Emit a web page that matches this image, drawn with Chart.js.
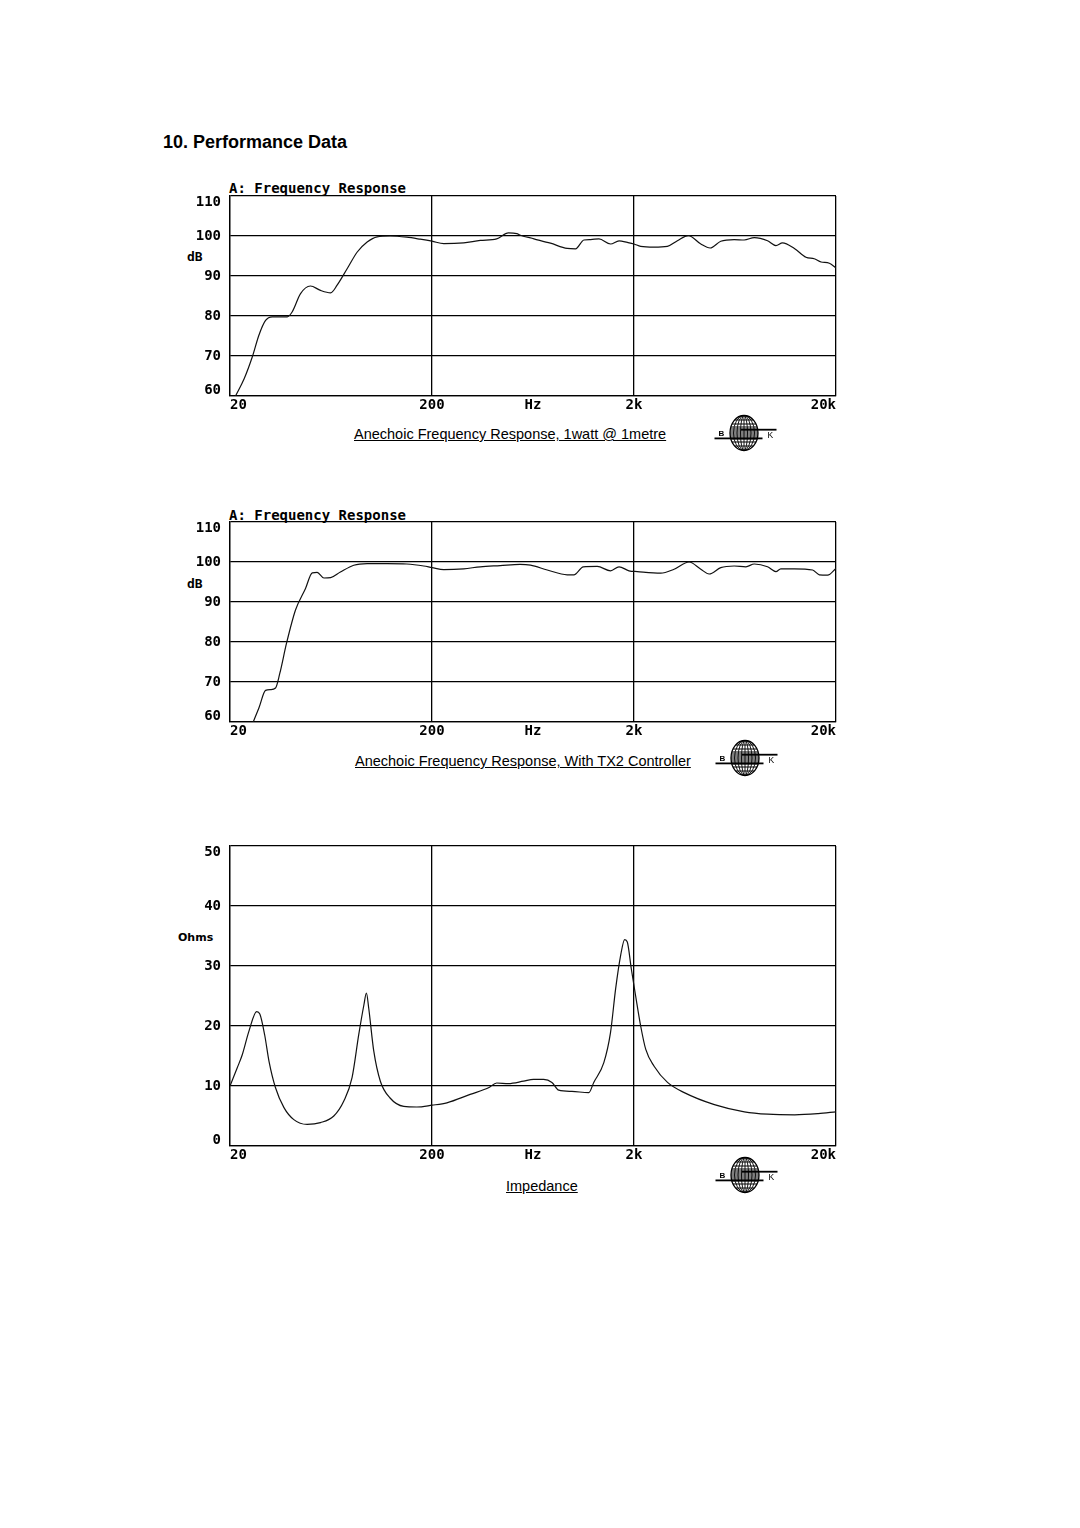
<!DOCTYPE html>
<html>
<head>
<meta charset="utf-8">
<script src="https://cdn.jsdelivr.net/npm/chart.js@4.4.1/dist/chart.umd.min.js"></script>
<style>
  body { margin: 0; background: #fff; }
  #page { position: relative; width: 1080px; height: 1528px; background: #fff; color: #000; }
  .abs { position: absolute; white-space: nowrap; }
  .head { font: bold 18px "Liberation Sans", Arial, sans-serif; line-height: 20px; }
  .ttl { font: bold 14px "DejaVu Sans Mono", monospace; line-height: 16px; }
  .unit { font: bold 13px "DejaVu Sans Mono", monospace; line-height: 16px; }
  .cap { font: 14.5px "Liberation Sans", Arial, sans-serif; line-height: 18px; text-decoration: underline; }
  canvas { position: absolute; }
</style>
</head>
<body>
<div id="page">
  <div class="abs head" style="left:163px; top:132px;">10. Performance Data</div>

  <div class="abs ttl" style="left:229px; top:180px;">A: Frequency Response</div>
  <div class="abs unit" style="left:187px; top:249px;">dB</div>
  <canvas id="c1" width="680" height="250" style="left:170px; top:170px;"></canvas>
  <div class="abs cap" style="left:354px; top:425px;">Anechoic Frequency Response, 1watt @ 1metre</div>

  <div class="abs ttl" style="left:229px; top:507px;">A: Frequency Response</div>
  <div class="abs unit" style="left:187px; top:576px;">dB</div>
  <canvas id="c2" width="680" height="250" style="left:170px; top:496px;"></canvas>
  <div class="abs cap" style="left:355px; top:752px;">Anechoic Frequency Response, With TX2 Controller</div>

  <div class="abs unit" style="left:178px; top:930px; font-size:11px; font-family:'DejaVu Sans', sans-serif;">Ohms</div>
  <canvas id="c3" width="680" height="350" style="left:170px; top:820px;"></canvas>
  <div class="abs cap" style="left:506px; top:1177px;">Impedance</div>
</div>

<script>
// frequency response, 1 watt @ 1 metre
const freqA = [21.3, 23.5, 25.8, 27.8, 30, 32.4, 35.6, 38.4, 40.6, 44.7, 50, 56.1, 63, 67.8, 76, 85.3, 95.5, 107, 124, 150, 175, 200, 229, 287, 347, 418, 478, 526,
  548, 639, 772, 934, 1027, 1130, 1220, 1342, 1531, 1686, 1854, 2000, 2158, 2512, 2926, 3280, 3718, 4284, 4764, 5378, 6264, 7022, 7881, 9164, 10084, 10870, 12440, 14200, 15600, 16870, 18540, 20000];
const dbA = [60, 64.3, 69.8, 75.2, 78.9, 79.8, 79.8, 79.8, 81, 85.6, 87.5, 86.4, 85.8, 87.7, 91.8, 96, 98.5, 99.8, 100, 99.7, 99.2, 98.7, 98.1, 98.3, 98.9, 99.3, 100.8, 100.6,
  100.2, 99.3, 98.2, 96.9, 96.8, 99, 99.1, 99.3, 98, 98.8, 98.4, 98, 97.4, 97.2, 97.4, 98.8, 100.1, 98, 97, 98.7, 99.1, 99, 99.6, 98.8, 97.6, 98.3, 96.9, 94.7, 94.3, 93.5, 93.2, 92];

// frequency response with TX2 controller
const freqB = [25.8, 27.8, 30, 31.8, 33.6, 35.3, 38.1, 42.2, 47.3, 51.1, 54, 58.3, 63, 70.4, 82, 95.5, 120, 150, 182, 200, 229, 287, 347, 435, 546,
  615, 744, 934, 1008, 1122, 1316, 1531, 1686, 1889, 2077, 2712, 3158, 3748, 4284, 4710, 5378, 6264, 7160, 7881, 9164, 10084, 10660, 12440, 15320, 16540, 18180, 20000];
const dbB = [59.5, 63.5, 67.9, 68.1, 68.5, 72.2, 79.7, 88, 93.4, 97.3, 97.4, 96, 96.1, 97.5, 99.2, 99.6, 99.6, 99.5, 99, 98.6, 98.1, 98.3, 98.8, 99.1, 99.4,
  99.2, 98, 96.8, 96.8, 98.8, 98.9, 97.8, 98.8, 97.8, 97.6, 97.2, 98.2, 100, 98.2, 97, 98.6, 99, 98.8, 99.5, 98.8, 97.6, 98.3, 98.3, 98, 96.8, 96.7, 98.4];

// impedance
const freqZ = [20, 21.7, 23, 24.8, 27.1, 28.1, 29.7, 31.2, 33.6, 37, 41.4, 48.2, 56.1, 65.3, 73.2, 80.4, 86.8, 92, 94.7, 97.2, 103, 111, 124, 145, 168, 200, 237, 309, 381, 418, 478,
  568, 636, 714, 785, 848, 986, 1195, 1264, 1418, 1530, 1622, 1716, 1798, 1853, 1940, 2038, 2158, 2287, 2515, 2930, 3546, 5000, 7040, 9200, 12500, 16320, 20000];
const ohmsZ = [10, 13, 15.2, 19.1, 22.4, 22, 18.5, 14.1, 9.7, 6.4, 4.4, 3.6, 3.9, 5, 7.5, 11.4, 18.6, 23.5, 25.5, 23, 15.8, 10.8, 8, 6.6, 6.5, 6.8, 7.2, 8.6, 9.7, 10.5, 10.4,
  10.8, 11.1, 11.1, 10.6, 9.3, 9.1, 8.9, 10.6, 13.9, 18.9, 26.2, 31.7, 34.4, 34, 29.5, 25, 20, 16.1, 13.3, 10.6, 8.9, 6.9, 5.7, 5.3, 5.2, 5.4, 5.7];

const xTickValues = [20, 200, 632, 2000, 20000];
const xTickLabels = ["20", "200", "Hz", "2k", "20k"];

const tickFont = { family: "'DejaVu Sans Mono', monospace", size: 14, weight: "bold" };

// the first and last y labels sit a little inside the frame, as on the printed sheet
const edgeLabels = {
  id: "edgeLabels",
  beforeDraw(chart) {
    const items = chart.scales.y.getLabelItems();
    if (!items.length) return;
    const first = items[0].options.translation;
    const last = items[items.length - 1].options.translation;
    items[0].options.translation = [first[0], first[1] - 6];
    items[items.length - 1].options.translation = [last[0], last[1] + 6];
  }
};

function makeChart(id, freqs, values, yMin, yMax) {
  const points = freqs.map((f, i) => ({ x: f, y: values[i] }));
  return new Chart(document.getElementById(id), {
    type: "line",
    data: {
      datasets: [{
        data: points,
        borderColor: "#111",
        borderWidth: 1.2,
        pointRadius: 0,
        cubicInterpolationMode: "monotone",
        fill: false
      }]
    },
    options: {
      responsive: false,
      animation: false,
      layout: { padding: { top: 26, right: 14, left: 0, bottom: 0 } },
      plugins: { legend: { display: false }, tooltip: { enabled: false } },
      scales: {
        x: {
          type: "logarithmic",
          min: 20,
          max: 20000,
          afterBuildTicks: (axis) => { axis.ticks = xTickValues.map(v => ({ value: v })); },
          afterFit: (axis) => { axis.height = 24; },
          ticks: {
            autoSkip: false,
            maxRotation: 0,
            align: "inner",
            padding: 1,
            color: "#000",
            font: tickFont,
            callback: (v, i) => xTickLabels[i]
          },
          grid: {
            drawTicks: false,
            lineWidth: 1.3,
            color: (ctx) => (ctx.tick && ctx.tick.value === 632) ? "rgba(0,0,0,0)" : "#000"
          },
          border: { color: "#000", width: 1.3 }
        },
        y: {
          min: yMin,
          max: yMax,
          afterFit: (axis) => { axis.width = 60; },
          ticks: { stepSize: 10, padding: 9, color: "#000", font: tickFont },
          grid: { drawTicks: false, lineWidth: 1.3, color: "#000" },
          border: { color: "#000", width: 1.3 }
        }
      }
    },
    plugins: [edgeLabels]
  });
}

makeChart("c1", freqA, dbA, 60, 110);
makeChart("c2", freqB, dbB, 60, 110);
makeChart("c3", freqZ, ohmsZ, 0, 50);

// B&K globe marks next to the captions
function addLogo(cx, cy) {
  const ns = "http://www.w3.org/2000/svg";
  const svg = document.createElementNS(ns, "svg");
  svg.setAttribute("width", "70");
  svg.setAttribute("height", "42");
  svg.setAttribute("class", "abs");
  svg.style.left = (cx - 35) + "px";
  svg.style.top = (cy - 21) + "px";
  let s = '<ellipse cx="35" cy="21" rx="14" ry="17.5" fill="#fff" stroke="#000" stroke-width="1.3"/>';
  [3.5, 7, 10.5].forEach(r => { s += '<ellipse cx="35" cy="21" rx="' + r + '" ry="17.5" fill="none" stroke="#000" stroke-width="0.9"/>'; });
  s += '<line x1="35" y1="3.5" x2="35" y2="38.5" stroke="#000" stroke-width="0.9"/>';
  [8, 12, 15, 17, 19, 21, 23, 25, 27, 30, 34].forEach(y => {
    const dy = (y - 21) / 17.5;
    const hw = 14 * Math.sqrt(Math.max(0, 1 - dy * dy));
    s += '<line x1="' + (35 - hw) + '" y1="' + y + '" x2="' + (35 + hw) + '" y2="' + y + '" stroke="#000" stroke-width="1"/>';
  });
  s += '<rect x="5.5" y="25.5" width="48" height="1.8" fill="#000"/>';
  s += '<rect x="32" y="16.8" width="35.5" height="1.8" fill="#000"/>';
  s += '<text x="9.5" y="24.3" font-family="Liberation Sans, Arial" font-weight="bold" font-size="8" fill="#000">B</text>';
  s += '<text x="58.5" y="26.3" font-family="Liberation Sans, Arial" font-size="8.5" fill="#000">K</text>';
  svg.innerHTML = s;
  document.getElementById("page").appendChild(svg);
}
addLogo(744, 433);
addLogo(745, 758);
addLogo(745, 1175);
</script>
</body>
</html>
